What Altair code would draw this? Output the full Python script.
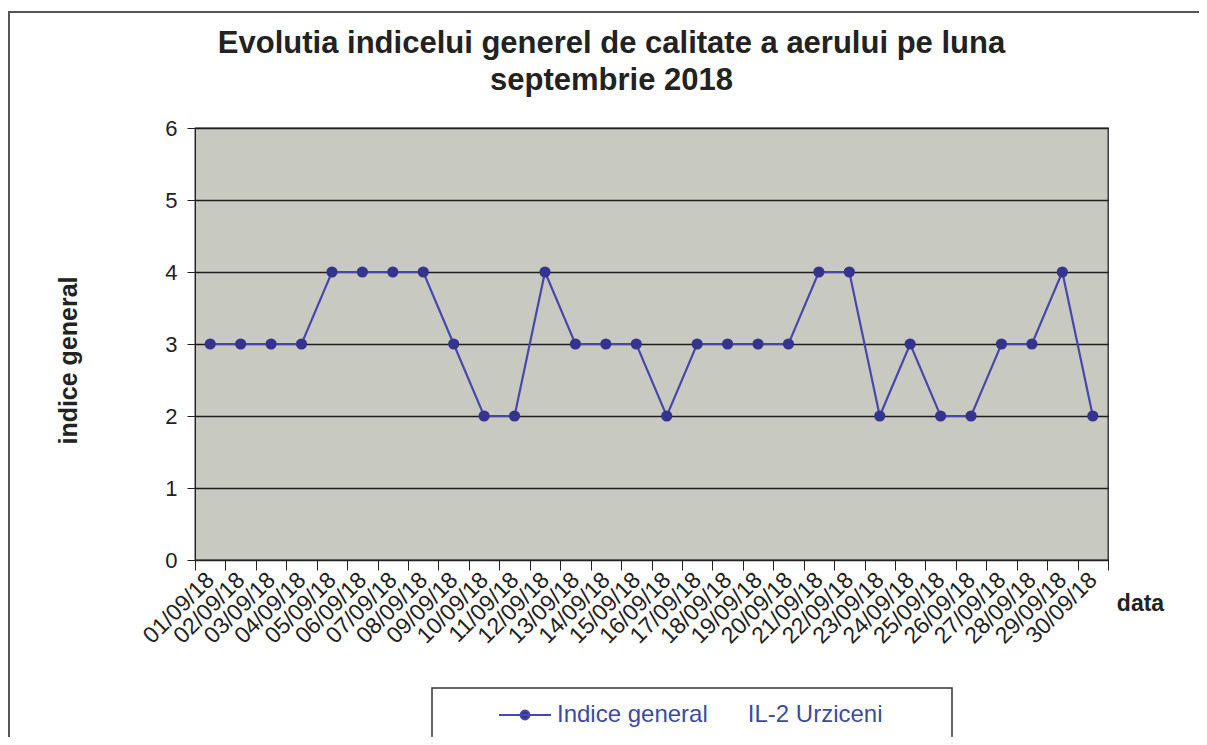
import altair as alt
import pandas as pd

dates = ["01/09/18", "02/09/18", "03/09/18", "04/09/18", "05/09/18", "06/09/18",
         "07/09/18", "08/09/18", "09/09/18", "10/09/18", "11/09/18", "12/09/18",
         "13/09/18", "14/09/18", "15/09/18", "16/09/18", "17/09/18", "18/09/18",
         "19/09/18", "20/09/18", "21/09/18", "22/09/18", "23/09/18", "24/09/18",
         "25/09/18", "26/09/18", "27/09/18", "28/09/18", "29/09/18", "30/09/18"]
values = [3, 3, 3, 3, 4, 4, 4, 4, 3, 2, 2, 4, 3, 3, 3, 2, 3, 3, 3, 3,
          4, 4, 2, 3, 2, 2, 3, 3, 4, 2]
series_label = "Indice general\u00a0\u00a0\u00a0\u00a0\u00a0\u00a0IL-2 Urziceni"

df = pd.DataFrame({"data": dates, "indice": values, "serie": [series_label] * len(dates)})
deco = pd.DataFrame({"k": [0]})

FONT = "Liberation Sans"
LINE = "#4848ac"
DOT = "#34348e"

x = alt.X("data:O", sort=dates,
          scale=alt.Scale(paddingInner=0, paddingOuter=0),
          axis=alt.Axis(title="data", labelAngle=-45, labelAlign="right", labelBaseline="middle",
                        labelFontSize=23, labelColor="#222", labelPadding=6,
                        tickBand="extent", tickSize=10, tickColor="#222", domainColor="#222",
                        titleFontSize=23, titleFontWeight="bold", titleColor="#222",
                        titleX=945, titleY=43, titleAlign="center", titleBaseline="middle",
                        grid=False, labelFont=FONT, titleFont=FONT))
y = alt.Y("indice:Q",
          scale=alt.Scale(domain=[0, 6], nice=False),
          axis=alt.Axis(title="indice general", values=[0, 1, 2, 3, 4, 5, 6], format="d",
                        labelFontSize=22, labelColor="#222", labelPadding=10,
                        tickSize=8, tickColor="#222", domainColor="#222",
                        grid=True, gridColor="#1e1e1e", gridWidth=1.3,
                        titleFontSize=25, titleFontWeight="bold", titleColor="#222",
                        titleX=-127, titleY=232, titleAlign="center", titleBaseline="middle",
                        titleAngle=-90, labelFont=FONT, titleFont=FONT))

# legend symbol: a line with a dot in the middle
sym_path = "M-1,0H1M-0.17,0a0.17,0.17 0 1,0 0.34,0a0.17,0.17 0 1,0 -0.34,0Z"

# outer chart frame and legend frame (decoration)
frame = alt.Chart(deco).mark_rect(fill=None, stroke="#555", strokeWidth=2).encode(
    x=alt.value(-186), x2=alt.value(1030), y=alt.value(-116), y2=alt.value(720))
legend_box = alt.Chart(deco).mark_rect(fill="white", stroke="#333", strokeWidth=1.5).encode(
    x=alt.value(237), x2=alt.value(757), y=alt.value(560), y2=alt.value(612))

line = alt.Chart(df).mark_line(strokeWidth=2.2).encode(
    x=x, y=y,
    color=alt.Color("serie:N", scale=alt.Scale(range=[LINE]),
                    legend=alt.Legend(title=None, orient="none", legendX=303, legendY=560,
                                      padding=0,
                                      symbolType=sym_path, symbolSize=52 * 52,
                                      symbolStrokeWidth=2, symbolFillColor=DOT,
                                      symbolStrokeColor=LINE,
                                      labelFontSize=24, labelColor="#3d4c9e", labelFont=FONT,
                                      labelLimit=0, labelOffset=5)),
)
points = alt.Chart(df).mark_point(filled=True, size=125, opacity=1, color=DOT).encode(x=x, y=y)

chart = alt.layer(frame, legend_box, line, points).properties(
    width=913, height=432,
    autosize=alt.AutoSizeParams(type="none"),
    padding={"left": 187, "top": 120, "right": 91, "bottom": 177},
    background="white",
    title=alt.Title(["Evolutia indicelui generel de calitate a aerului pe luna", "septembrie 2018"],
                    anchor="middle", frame="group", dx=-40, offset=-86,
                    fontSize=31, fontWeight="bold", color="#222", font=FONT, lineHeight=37),
).configure_view(fill="#c8c9c1", stroke="#222", strokeWidth=1.3)

chart.save("out.html", embed_options={"renderer": "svg", "actions": False})
